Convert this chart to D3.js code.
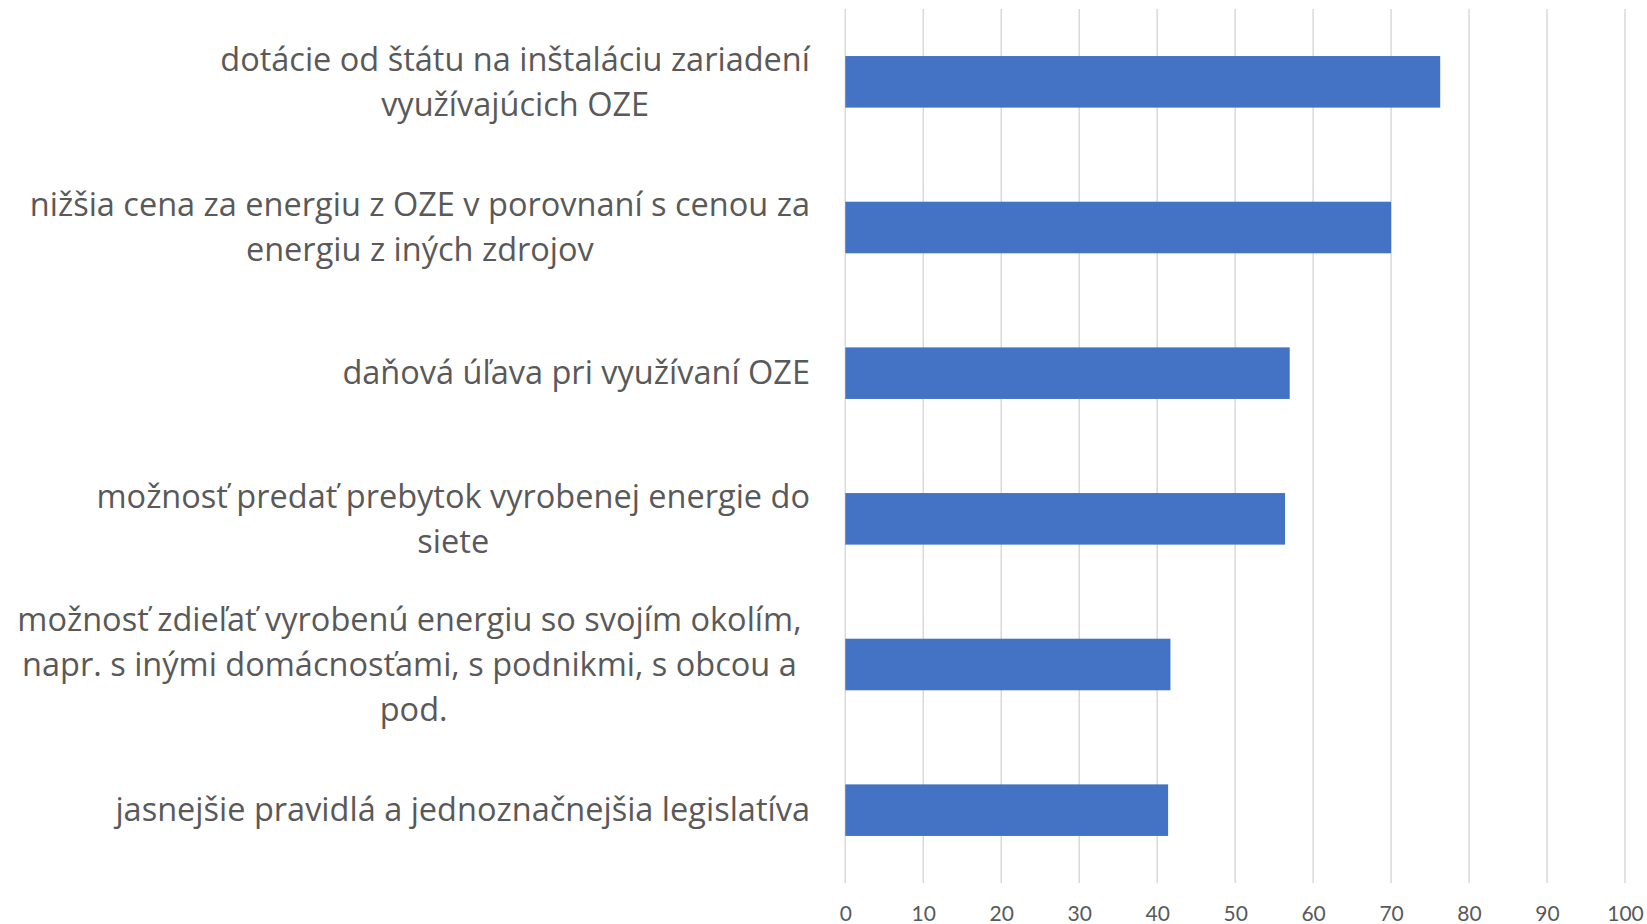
<!DOCTYPE html>
<html>
<head>
<meta charset="utf-8">
<script src="https://cdn.jsdelivr.net/npm/d3@7"></script>
<style>
  html, body { margin: 0; padding: 0; background: #fff; }
  svg { display: block; }
</style>
</head>
<body>
<svg id="chart" width="1647" height="924"></svg>
<script>
// ---- data ----
const categories = [
  "dotácie od štátu na inštaláciu zariadení\nvyužívajúcich OZE",
  "nižšia cena za energiu z OZE v porovnaní s cenou za\nenergiu z iných zdrojov",
  "daňová úľava pri využívaní OZE",
  "možnosť predať prebytok vyrobenej energie do\nsiete",
  "možnosť zdieľať vyrobenú energiu so svojím okolím, \nnapr. s inými domácnosťami, s podnikmi, s obcou a \npod.",
  "jasnejšie pravidlá a jednoznačnejšia legislatíva"
];
const values = [76.3, 70.0, 57.0, 56.4, 41.7, 41.4];
const xTicks = [0, 10, 20, 30, 40, 50, 60, 70, 80, 90, 100];

// ---- layout ----
const W = 1647, H = 924;
const margin = { top: 9, right: 22, bottom: 41, left: 845.3 };
const svg = d3.select("#chart");
const labelFont = "'Open Sans', Lato, sans-serif";
const tickFont = "Lato, 'Open Sans', sans-serif";
const textColor = "#595959";

const x = d3.scaleLinear().domain([0, 100]).range([margin.left, 1625]);
const y = d3.scaleBand().domain(d3.range(categories.length))
  .range([margin.top, H - margin.bottom])
  .paddingInner(0.646).paddingOuter(0.323);

// gridlines
svg.append("g").selectAll("line").data(xTicks).join("line")
  .attr("x1", d => x(d)).attr("x2", d => x(d))
  .attr("y1", margin.top).attr("y2", H - margin.bottom)
  .attr("stroke", "#d9d9d9").attr("stroke-width", 1.5);

// bars
svg.append("g").selectAll("rect").data(values).join("rect")
  .attr("x", x(0))
  .attr("y", (d, i) => y(i))
  .attr("width", d => x(d) - x(0))
  .attr("height", y.bandwidth())
  .attr("fill", "#4472c4");

// x axis labels
const xAxis = d3.axisBottom(x).tickValues(xTicks).tickSize(0).tickPadding(0);
const gx = svg.append("g").attr("transform", `translate(0, ${H - margin.bottom})`).call(xAxis);
gx.select(".domain").remove();
gx.selectAll("text")
  .attr("dy", null).attr("y", 33)
  .attr("dominant-baseline", "middle")
  .attr("font-family", tickFont).attr("font-size", 21)
  .attr("fill", textColor);

// category labels
const labelRight = 810;
const lineH = 45;
const fs = 32.5;
const g = svg.append("g");
categories.forEach((c, i) => {
  const lines = c.split("\n");
  const cy = y(i) + y.bandwidth() / 2 + 2.5;
  const t = g.append("text")
    .attr("font-family", labelFont).attr("font-size", fs)
    .attr("fill", textColor)
    .attr("text-anchor", "middle")
    .style("white-space", "pre");
  const spans = lines.map((ln, k) => t.append("tspan")
    .attr("y", cy + (k - (lines.length - 1) / 2) * lineH)
    .attr("dominant-baseline", "middle")
    .text(ln));
  const maxW = d3.max(spans, s => s.node().getComputedTextLength());
  spans.forEach(s => s.attr("x", labelRight - maxW / 2));
});
</script>
</body>
</html>
